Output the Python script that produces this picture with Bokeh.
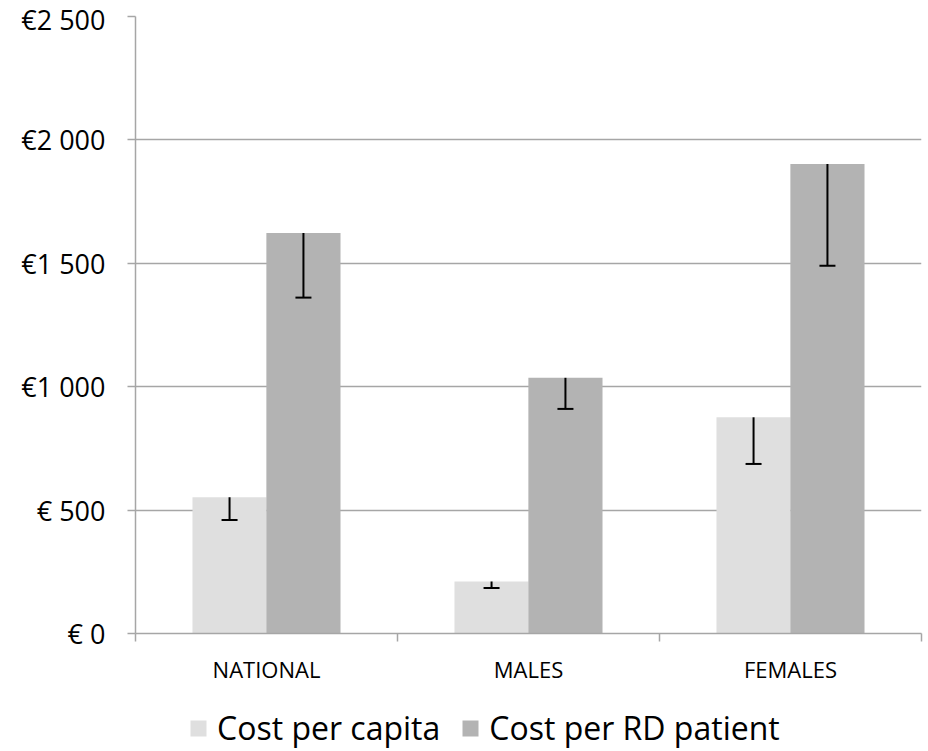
from bokeh.plotting import figure
from bokeh.models import (Range1d, FixedTicker, ColumnDataSource, Legend, LegendItem)
from bokeh.layouts import column
from bokeh.embed import file_html
from bokeh.resources import INLINE

categories = ["NATIONAL", "MALES", "FEMALES"]
series_names = ["Cost per capita", "Cost per RD patient"]
per_capita = [552, 211, 876]
per_capita_low = [460, 184, 687]
per_patient = [1623, 1036, 1902]
per_patient_low = [1361, 910, 1490]
y_ticks = [0, 500, 1000, 1500, 2000, 2500]
y_tick_labels = ["€ 0", "€ 500", "€1 000", "€1 500", "€2 000", "€2 500"]

FONT = "Open Sans"
LIGHT = "#dfdfdf"
DARK = "#b3b3b3"
GRID = "#a6a6a6"
BAR_W = 0.283
OFF = 0.141

centers = [i + 0.5 for i in range(len(categories))]

src_cap = ColumnDataSource(dict(x=[c - OFF for c in centers], top=per_capita,
                                lower=per_capita_low))
src_pat = ColumnDataSource(dict(x=[c + OFF for c in centers], top=per_patient,
                                lower=per_patient_low))

p = figure(width=928, height=690, output_backend="svg", toolbar_location=None,
           x_range=Range1d(0, len(categories)), y_range=Range1d(0, 2500),
           min_border_left=135, min_border_right=7, min_border_top=16,
           min_border_bottom=57)
p.outline_line_color = None
p.background_fill_color = "white"
p.border_fill_color = "white"

p.vbar(x="x", top="top", width=BAR_W, source=src_cap, fill_color=LIGHT,
       line_color=None)
p.vbar(x="x", top="top", width=BAR_W, source=src_pat, fill_color=DARK,
       line_color=None)

# error bars: from bar top down to the lower bound, capped at the bottom
for src in (src_cap, src_pat):
    p.segment(x0="x", y0="top", x1="x", y1="lower", source=src,
              line_color="black", line_width=2)
    p.scatter(x="x", y="lower", source=src, marker="dash", size=16,
              line_color="black", line_width=2)

# y axis
p.yaxis.ticker = FixedTicker(ticks=y_ticks)
p.yaxis.major_label_overrides = {t: l for t, l in zip(y_ticks, y_tick_labels)}
p.yaxis.major_label_text_font = FONT
p.yaxis.major_label_text_font_size = "27px"
p.yaxis.major_label_text_color = "black"
p.yaxis.major_tick_out = 8
p.yaxis.major_tick_in = 0
p.yaxis.minor_tick_line_color = None
p.yaxis.axis_line_color = GRID
p.yaxis.axis_line_width = 1.5
p.yaxis.major_tick_line_color = GRID
p.yaxis.major_tick_line_width = 1.5
p.yaxis.major_label_standoff = 22

# x axis
p.xaxis.ticker = FixedTicker(ticks=centers, minor_ticks=list(range(len(categories) + 1)))
p.xaxis.major_label_overrides = {c: n for c, n in zip(centers, categories)}
p.xaxis.major_label_text_font = FONT
p.xaxis.major_label_text_font_size = "22px"
p.xaxis.major_label_text_color = "black"
p.xaxis.major_tick_out = 0
p.xaxis.major_tick_in = 0
p.xaxis.minor_tick_out = 8
p.xaxis.minor_tick_in = 0
p.xaxis.minor_tick_line_color = GRID
p.xaxis.minor_tick_line_width = 1.5
p.xaxis.axis_line_color = GRID
p.xaxis.axis_line_width = 1.5
p.xaxis.major_label_standoff = 12

p.xgrid.grid_line_color = None
p.ygrid.ticker = FixedTicker(ticks=y_ticks)
p.ygrid.grid_line_color = GRID
p.ygrid.grid_line_width = 1.5

# legend strip below the chart (its frame is aligned with the chart's frame)
leg = figure(width=928, height=61, output_backend="svg", toolbar_location=None,
             x_range=Range1d(0, 1), y_range=Range1d(0, 1),
             min_border=0, min_border_left=0, min_border_right=0,
             min_border_top=0, min_border_bottom=0)
leg.axis.visible = False
leg.grid.visible = False
leg.outline_line_color = None
leg.background_fill_color = "white"
leg.border_fill_color = "white"
lr1 = leg.vbar(x=[0.5], top=[0], bottom=[0], width=0.0, fill_color=LIGHT,
               line_color=None)
lr2 = leg.vbar(x=[0.5], top=[0], bottom=[0], width=0.0, fill_color=DARK,
               line_color=None)

legend = Legend(items=[LegendItem(label=series_names[0], renderers=[lr1]),
                       LegendItem(label=series_names[1], renderers=[lr2])],
                orientation="horizontal", location=(53, 2),
                label_text_font=FONT, label_text_font_size="32px",
                label_text_color="black",
                glyph_width=20, glyph_height=20, label_standoff=9, spacing=20,
                border_line_color=None, background_fill_alpha=0,
                padding=0, margin=0)
leg.add_layout(legend, "center")

layout = column(p, leg, spacing=0)
open("out.html", "w").write(file_html(layout, INLINE))
